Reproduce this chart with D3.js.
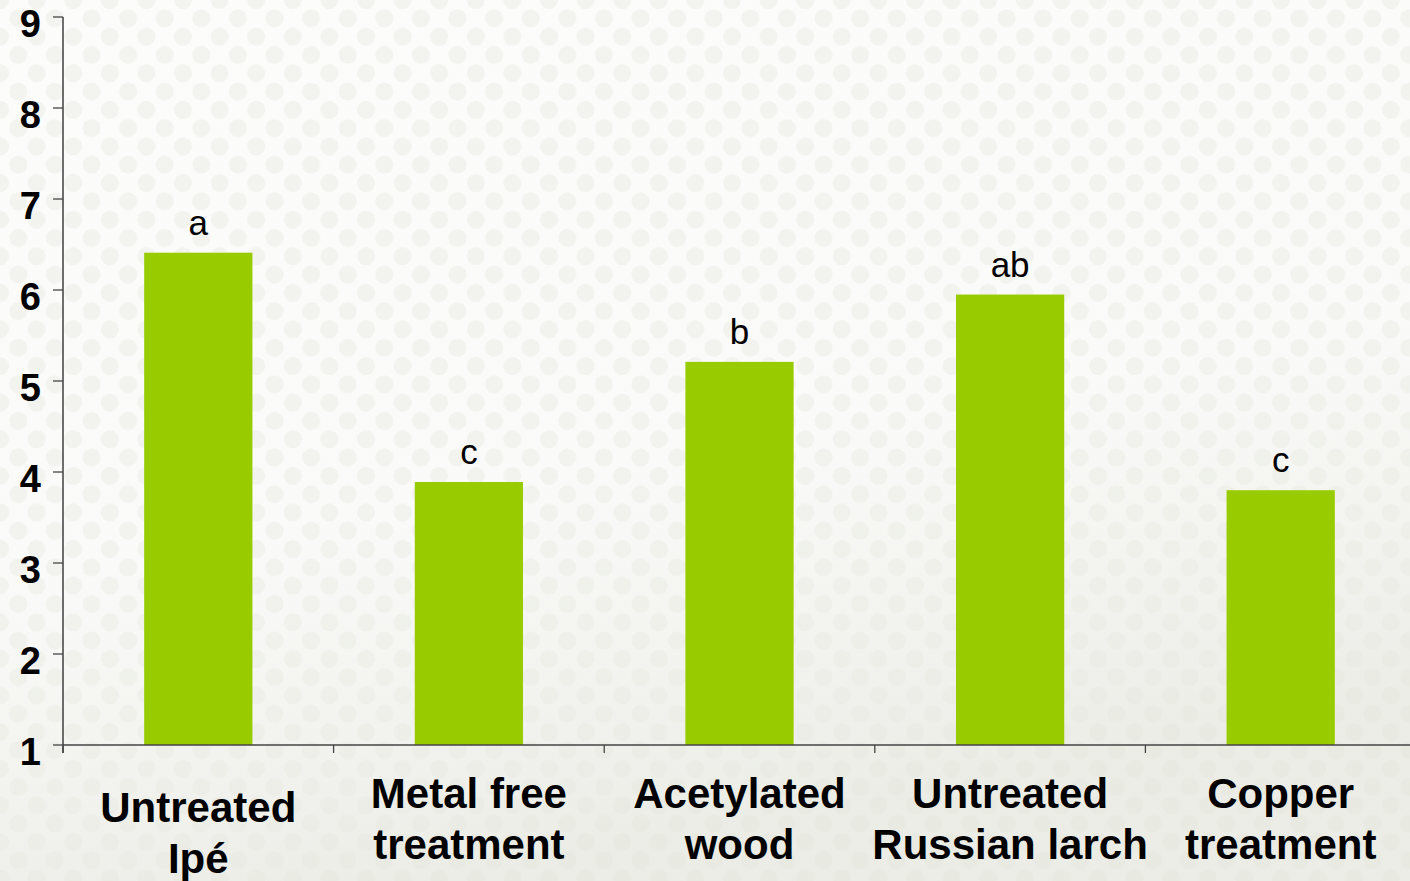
<!DOCTYPE html>
<html>
<head>
<meta charset="utf-8">
<script src="https://cdn.jsdelivr.net/npm/d3@7"></script>
<style>
    html, body { margin: 0; padding: 0; background: #fff; }
    svg { display: block; }
</style>
</head>
<body>
<svg width="1410" height="881"></svg>
<script>
const categories = [
    ['Untreated', 'Ipé'],
    ['Metal free', 'treatment'],
    ['Acetylated', 'wood'],
    ['Untreated', 'Russian larch'],
    ['Copper', 'treatment']
];
const values = [6.41, 3.89, 5.21, 5.95, 3.80];
const groupLetters = ['a', 'c', 'b', 'ab', 'c'];
const yTicks = [1, 2, 3, 4, 5, 6, 7, 8, 9];

const svg = d3.select('svg');
const width = +svg.attr('width');
const height = +svg.attr('height');
const margin = { top: 17, right: 0, bottom: 136, left: 63 };

// background: faint dotted texture, a bit greyer towards the bottom
const defs = svg.append('defs');
const pat = defs.append('pattern')
    .attr('id', 'dots')
    .attr('patternUnits', 'userSpaceOnUse')
    .attr('width', 36.6)
    .attr('height', 36.6);
pat.append('rect').attr('width', 36.6).attr('height', 36.6).attr('fill', '#fcfcfb');
[[0, 0], [36.6, 0], [0, 36.6], [36.6, 36.6], [18.3, 18.3]].forEach(p => {
    pat.append('circle').attr('cx', p[0]).attr('cy', p[1]).attr('r', 9).attr('fill', '#f3f4ef');
});
const grad = defs.append('linearGradient')
    .attr('id', 'shade')
    .attr('x1', 0).attr('y1', 0).attr('x2', 0.3).attr('y2', 1);
grad.append('stop').attr('offset', '0%').attr('stop-color', '#e9ebe3').attr('stop-opacity', 0);
grad.append('stop').attr('offset', '60%').attr('stop-color', '#e9ebe3').attr('stop-opacity', 0.1);
grad.append('stop').attr('offset', '100%').attr('stop-color', '#e4e6dd').attr('stop-opacity', 0.7);

svg.append('rect').attr('width', width).attr('height', height).attr('fill', 'url(#dots)');
svg.append('rect').attr('width', width).attr('height', height).attr('fill', 'url(#shade)');

const y = d3.scaleLinear().domain([1, 9]).range([745, margin.top]);
const step = 270.6;
const x = d3.scaleBand()
    .domain(d3.range(categories.length))
    .range([margin.left, margin.left + step * categories.length])
    .paddingInner(0.6)
    .paddingOuter(0.3);

// bars
svg.selectAll('rect.bar')
    .data(values)
    .enter().append('rect')
    .attr('class', 'bar')
    .attr('x', (d, i) => x(i))
    .attr('y', d => y(d))
    .attr('width', x.bandwidth())
    .attr('height', d => y(1) - y(d))
    .attr('fill', '#99cc00');

// significance letters
svg.selectAll('text.letter')
    .data(values)
    .enter().append('text')
    .attr('class', 'letter')
    .attr('x', (d, i) => x(i) + x.bandwidth() / 2)
    .attr('y', d => y(d) - 18)
    .attr('text-anchor', 'middle')
    .attr('font-family', 'Liberation Sans, Arial, sans-serif')
    .attr('font-size', '35px')
    .attr('fill', '#000')
    .text((d, i) => groupLetters[i]);

// y axis
const yAxis = svg.append('g');
yAxis.append('line')
    .attr('x1', margin.left).attr('x2', margin.left)
    .attr('y1', y(9)).attr('y2', y(1) + 8)
    .attr('stroke', '#222').attr('stroke-width', 1.3);
yTicks.forEach(t => {
    yAxis.append('line')
        .attr('x1', 53).attr('x2', margin.left)
        .attr('y1', y(t)).attr('y2', y(t))
        .attr('stroke', '#444').attr('stroke-width', 1.3);
    yAxis.append('text')
        .attr('x', 41)
        .attr('y', y(t) + 19.5)
        .attr('text-anchor', 'end')
        .attr('font-family', 'Liberation Sans, Arial, sans-serif')
        .attr('font-weight', 'bold')
        .attr('font-size', '38px')
        .attr('fill', '#000')
        .text(t);
});

// x axis
const xAxis = svg.append('g');
xAxis.append('line')
    .attr('x1', margin.left).attr('x2', width)
    .attr('y1', y(1)).attr('y2', y(1))
    .attr('stroke', '#444').attr('stroke-width', 1.3);
d3.range(categories.length).forEach(i => {
    const bx = margin.left + step * i;
    xAxis.append('line')
        .attr('x1', bx).attr('x2', bx)
        .attr('y1', y(1)).attr('y2', y(1) + 8)
        .attr('stroke', '#444').attr('stroke-width', 1.3);
});

// category labels (the first one sits a little lower in the original)
categories.forEach((lines, i) => {
    const cx = x(i) + x.bandwidth() / 2;
    const base = i === 0 ? 822 : 808;
    const t = xAxis.append('text')
        .attr('text-anchor', 'middle')
        .attr('font-family', 'Liberation Sans, Arial, sans-serif')
        .attr('font-weight', 'bold')
        .attr('font-size', '42px')
        .attr('fill', '#000');
    lines.forEach((s, j) => {
        t.append('tspan')
            .attr('x', cx)
            .attr('y', base + j * 50.5)
            .text(s);
    });
});
</script>
</body>
</html>
